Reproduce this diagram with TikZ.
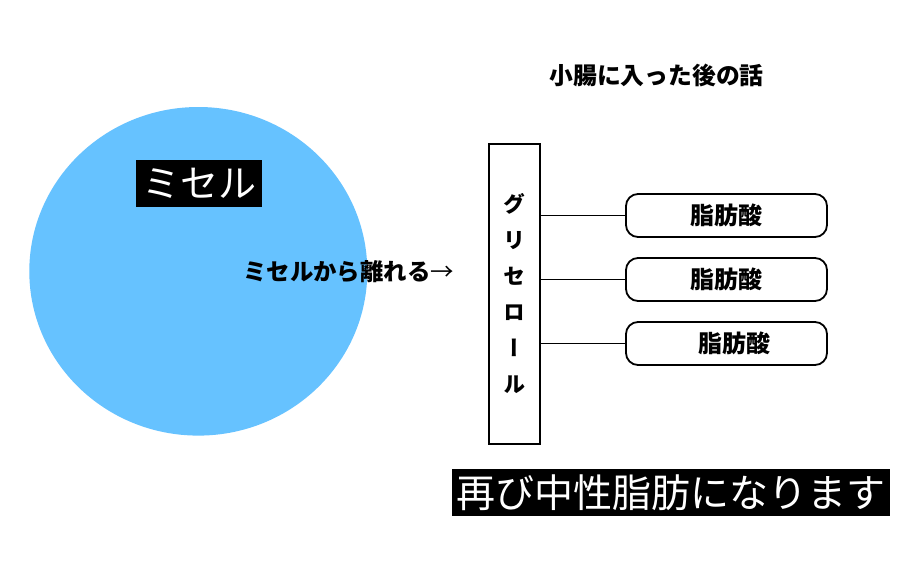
\documentclass[tikz,border=0pt]{standalone}
\usepackage{fontspec}
\newfontfamily\jp{Noto Sans CJK JP}
\newfontfamily\jpv[RawFeature=+vert]{Noto Sans CJK JP}
\definecolor{micelle}{RGB}{102,194,255}
\tikzset{
  fabox/.style={draw=black, line width=1.8pt, rounded corners=12pt, minimum width=201pt, minimum height=43pt, inner sep=0pt, font=\jp\bfseries\fontsize{24}{27}\selectfont},
  blacklabel/.style={fill=black, text=white, inner sep=0pt, font=\jp\fontsize{39}{42}\selectfont},
  boldtext/.style={inner sep=0pt, font=\jp\bfseries\fontsize{23.8}{27}\selectfont},
  link/.style={line width=1.8pt}
}
\begin{document}
\begin{tikzpicture}[x=1pt,y=-1pt]
\useasboundingbox (0,0) rectangle (906,570);
\fill[white] (0,0) rectangle (906,570);
% micelle
\fill[micelle] (198.3,271.3) ellipse [x radius=169, y radius=164.3];
\node[blacklabel, minimum width=126pt, minimum height=47pt, font=\jp\fontsize{38}{42}\selectfont] (mic) at (199,183.5) {ミセル};
\node[boldtext, anchor=center, font=\jp\bfseries\fontsize{23.4}{27}\selectfont] (leave) at (348.5,272) {ミセルから離れる{\mdseries→}};
% title
\node[boldtext] (title) at (656.5,75) {小腸に入った後の話};
% glycerol
\node[draw, line width=1.8pt, minimum width=51pt, minimum height=300pt, inner sep=0pt, align=center,
      font=\jpv\bfseries\fontsize{22}{36}\selectfont] (gly) at (514.5,294) {グ\\リ\\セ\\ロ\\ー\\ル};
% fatty acids
\node[fabox] (fa1) at (726.5,215.5) {脂肪酸};
\node[fabox] (fa2) at (726.5,279.5) {脂肪酸};
\node[fabox] (fa3) at (726.5,343.5) {\hspace*{15pt}脂肪酸};
\draw[link] (gly.east |- fa1.west) -- (fa1.west);
\draw[link] (gly.east |- fa2.west) -- (fa2.west);
\draw[link] (gly.east |- fa3.west) -- (fa3.west);
% result
\node[blacklabel, minimum width=438pt, minimum height=47pt] (res) at (671,492.5) {再び中性脂肪になります};
\end{tikzpicture}
\end{document}
